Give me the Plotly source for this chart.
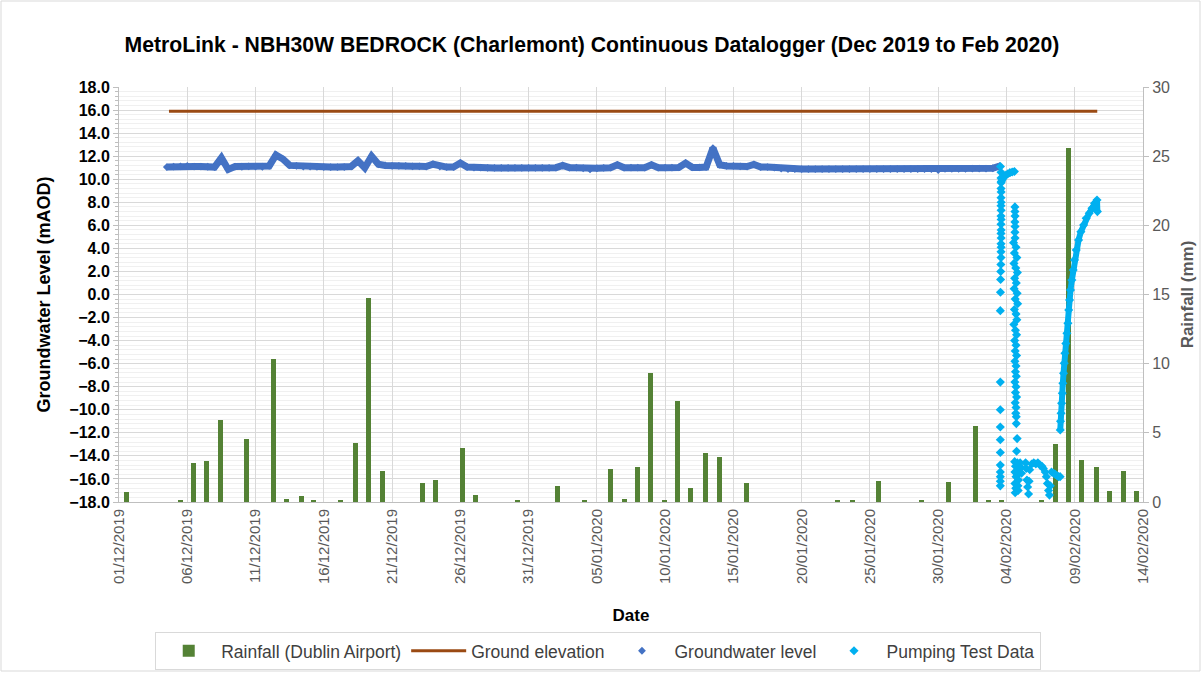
import numpy as np
import pandas as pd
import plotly.graph_objects as go

# ---------------- data (x values = days elapsed since 01/12/2019) ----------------
BASE = pd.Timestamp("2019-12-01")

x_tick_dates = ["2019-12-01", "2019-12-06", "2019-12-11", "2019-12-16", "2019-12-21",
                "2019-12-26", "2019-12-31", "2020-01-05", "2020-01-10", "2020-01-15",
                "2020-01-20", "2020-01-25", "2020-01-30", "2020-02-04", "2020-02-09",
                "2020-02-14"]

rain_day = [0.56, 4.47, 5.45, 6.43, 7.41, 9.37, 11.32, 12.30, 13.37, 14.24,
            16.19, 17.30, 18.29, 19.27, 22.20, 23.18, 25.14, 26.12, 29.18, 32.10,
            34.06, 36.02, 37.00, 37.98, 38.96, 39.93, 40.92, 41.89, 42.99, 43.97,
            45.93, 52.60, 53.70, 55.65, 58.75, 60.73, 62.70, 63.66, 64.64, 67.60,
            68.60, 69.54, 70.50, 71.60, 72.58, 73.56, 74.54]
rain_mm = [0.7, 0.1, 2.84, 2.94, 5.93, 4.58, 10.36, 0.2, 0.41, 0.1,
           0.1, 4.29, 14.73, 2.27, 1.4, 1.59, 3.88, 0.51, 0.12, 1.18,
           0.1, 2.36, 0.22, 2.55, 9.3, 0.1, 7.28, 0.99, 3.52, 3.23,
           1.4, 0.1, 0.1, 1.5, 0.14, 1.47, 5.52, 0.1, 0.14, 0.1,
           4.19, 25.62, 3.04, 2.55, 0.82, 2.26, 0.82]

ground_day = [3.66, 71.65]
ground_level = [15.9, 15.9]

gw_day = [3.5, 4.0, 4.5, 5.0, 5.5, 6.0, 6.5, 7.0, 7.5, 8.0,
          8.5, 9.0, 9.5, 10.0, 10.5, 11.0, 11.5, 12.0, 12.5, 13.0,
          13.5, 14.0, 14.5, 15.0, 15.5, 16.0, 16.5, 17.0, 17.5, 18.0,
          18.5, 19.0, 19.5, 20.0, 20.5, 21.0, 21.5, 22.0, 22.5, 23.0,
          23.5, 24.0, 24.5, 25.0, 25.5, 26.0, 26.5, 27.0, 27.5, 28.0,
          28.5, 29.0, 29.5, 30.0, 30.5, 31.0, 31.5, 32.0, 32.5, 33.0,
          33.5, 34.0, 34.5, 35.0, 35.5, 36.0, 36.5, 37.0, 37.5, 38.0,
          38.5, 39.0, 39.5, 40.0, 40.5, 41.0, 41.5, 42.0, 42.5, 43.0,
          43.5, 44.0, 44.5, 45.0, 45.5, 46.0, 46.5, 47.0, 47.5, 48.0,
          48.5, 49.0, 49.5, 50.0, 50.5, 51.0, 51.5, 52.0, 52.5, 53.0,
          53.5, 54.0, 54.5, 55.0, 55.5, 56.0, 56.5, 57.0, 57.5, 58.0,
          58.5, 59.0, 59.5, 60.0, 60.5, 61.0, 61.5, 62.0, 62.5, 63.0,
          63.5, 64.0, 64.5]
gw_level = [11.05, 11.10, 11.12, 11.15, 11.10, 11.10, 11.08, 11.05, 11.85, 10.85,
            11.10, 11.08, 11.12, 11.10, 11.08, 11.15, 12.10, 11.75, 11.20, 11.15,
            11.10, 11.10, 11.08, 11.05, 11.05, 11.05, 11.05, 11.10, 11.60, 11.00,
            12.00, 11.30, 11.20, 11.15, 11.15, 11.15, 11.12, 11.12, 11.10, 11.30,
            11.10, 11.05, 11.05, 11.40, 11.05, 11.00, 11.00, 10.98, 10.98, 10.98,
            10.98, 10.98, 10.98, 10.98, 10.98, 10.98, 10.98, 11.00, 11.20, 11.00,
            11.00, 10.95, 10.85, 10.95, 10.98, 11.00, 11.25, 11.00, 11.00, 11.00,
            11.00, 11.25, 11.00, 11.00, 11.00, 11.02, 11.40, 11.02, 11.02, 11.05,
            12.70, 11.25, 11.15, 11.15, 11.12, 11.10, 11.28, 11.05, 11.05, 11.00,
            10.92, 10.88, 10.88, 10.88, 10.88, 10.88, 10.88, 10.88, 10.88, 10.88,
            10.88, 10.88, 10.88, 10.88, 10.88, 10.88, 10.88, 10.88, 10.88, 10.88,
            10.88, 10.88, 10.88, 10.80, 10.90, 10.90, 10.90, 10.90, 10.92, 10.92,
            10.92, 10.95, 11.15]

# pumping test - first drawdown / recovery column
pump_col1_day = [64.56, 64.60, 64.60, 64.61, 64.60, 64.61, 64.60, 64.61, 64.60, 64.61,
                 64.60, 64.61, 64.60, 64.61, 64.60, 64.61, 64.60, 64.61, 64.60, 64.60,
                 64.59, 64.58, 64.57, 64.56, 64.55, 64.55, 64.55, 64.55, 64.55, 64.55,
                 64.55, 64.55, 64.55, 64.55, 64.55]
pump_col1_level = [11.1, 10.6, 10.1, 9.7, 9.2, 8.9, 8.4, 8.0, 7.7, 7.3,
                   6.8, 6.5, 6.1, 5.6, 5.3, 4.9, 4.4, 4.1, 3.7, 3.2,
                   2.6, 2.0, 1.3, 0.2, -1.4, -7.6, -10.0, -11.5, -12.6, -13.7,
                   -14.8, -15.4, -15.8, -16.2, -16.6]
# first recovery curve
pump_rec1_day = [64.62, 64.68, 64.76, 64.86, 64.97, 65.10, 65.25, 65.42, 65.58]
pump_rec1_level = [9.8, 9.95, 10.1, 10.25, 10.37, 10.48, 10.57, 10.63, 10.67]
# second drawdown column
pump_col2_day = [65.62, 65.62, 65.63, 65.62, 65.63, 65.62, 65.63,
                 65.52, 65.70, 65.58, 65.76, 65.55, 65.68, 65.80, 65.60, 65.72, 65.56,
                 65.78, 65.64, 65.82, 65.58, 65.70, 65.76, 65.54, 65.66, 65.74, 65.60,
                 65.70, 65.64, 65.74, 65.62, 65.70, 65.66, 65.72, 65.62, 65.70, 65.66,
                 65.74, 65.64, 65.70, 65.68, 65.72, 65.72, 65.78, 65.74]
pump_col2_level = [7.6, 7.2, 6.8, 6.3, 5.9, 5.4, 4.9,
                   4.5, 4.1, 3.6, 3.2, 2.7, 2.3, 1.9, 1.4, 1.0, 0.5,
                   0.1, -0.4, -0.8, -1.3, -1.7, -2.2, -2.6, -3.1, -3.5, -4.0,
                   -4.4, -4.9, -5.3, -5.8, -6.2, -6.7, -7.1, -7.6, -8.0, -8.5,
                   -8.9, -9.4, -9.8, -10.3, -10.6, -11.2, -12.5, -13.6]
# pumping period (low levels)
pump_low_day = [65.60, 65.66, 65.62, 65.70, 65.62, 65.68, 65.64,
                65.80, 65.86, 65.82, 65.88, 65.84, 65.86,
                66.00, 66.05, 66.10,
                66.40, 66.45, 66.50, 66.55, 66.62, 66.66, 66.70,
                66.85, 67.00, 67.15, 67.30, 67.45, 67.60, 67.70,
                67.84, 67.92, 68.00, 68.08, 68.15, 68.21,
                68.30, 68.45, 68.57, 68.69, 68.81, 68.93]
pump_low_level = [-14.5, -14.9, -15.4, -15.8, -16.4, -16.8, -17.2,
                  -14.6, -15.1, -15.6, -16.1, -16.6, -17.0,
                  -14.6, -15.0, -15.5,
                  -14.6, -15.1, -16.1, -16.7, -17.3, -16.2, -15.2,
                  -14.7, -14.6, -14.7, -14.6, -14.8, -14.9, -15.1,
                  -15.4, -15.8, -16.4, -17.0, -17.4, -16.6,
                  -15.4, -15.5, -15.6, -15.7, -15.8, -15.8]
# final recovery curve
pump_rec2_day = [68.94, 68.96, 69.00, 69.04, 69.09, 69.13, 69.18, 69.23, 69.28, 69.35,
                 69.43, 69.50, 69.56, 69.62, 69.69, 69.79, 69.89, 69.98, 70.11, 70.28,
                 70.45, 70.65, 70.84, 71.06, 71.26, 71.45, 71.63, 71.66]
pump_rec2_level = [-11.75, -11.0, -10.3, -9.43, -8.57, -7.7, -6.83, -5.96, -5.1, -4.24,
                   -3.36, -2.5, -1.34, -0.47, 0.39, 1.26, 2.13, 3.0, 3.86, 4.73,
                   5.45, 6.03, 6.61, 7.05, 7.48, 7.91, 8.2, 7.19]


def to_dt(days):
    return BASE + pd.to_timedelta(np.asarray(days, dtype=float), unit="D")


FONT = "Liberation Sans, Arial, sans-serif"
GREEN = "#548235"
BROWN = "#9A4A13"
BLUE = "#4472C4"
LBLUE = "#00B0F0"

fig = go.Figure()

fig.add_trace(go.Bar(
    x=to_dt(rain_day), y=rain_mm, name="Rainfall (Dublin Airport)",
    marker=dict(color=GREEN, line=dict(width=0)),
    width=0.37 * 86400000, yaxis="y", xaxis="x"))

fig.add_trace(go.Scatter(
    x=to_dt(ground_day), y=ground_level, name="Ground elevation",
    mode="lines", line=dict(color=BROWN, width=3), yaxis="y2"))

fig.add_trace(go.Scatter(
    x=to_dt(gw_day), y=gw_level, mode="lines", showlegend=False, hoverinfo="skip",
    line=dict(color=BLUE, width=7), yaxis="y2"))
fig.add_trace(go.Scatter(
    x=to_dt(gw_day), y=gw_level, name="Groundwater level", mode="markers",
    marker=dict(symbol="diamond", size=6, color=BLUE), yaxis="y2"))

for d, v in [(pump_rec1_day, pump_rec1_level), (pump_rec2_day, pump_rec2_level)]:
    fig.add_trace(go.Scatter(
        x=to_dt(d), y=v, mode="lines", showlegend=False, hoverinfo="skip",
        line=dict(color=LBLUE, width=6), yaxis="y2"))

pump_day = pump_col1_day + pump_rec1_day + pump_col2_day + pump_low_day + pump_rec2_day
pump_level = pump_col1_level + pump_rec1_level + pump_col2_level + pump_low_level + pump_rec2_level
fig.add_trace(go.Scatter(
    x=to_dt(pump_day), y=pump_level, name="Pumping Test Data", mode="markers",
    marker=dict(symbol="diamond", size=7, color=LBLUE), yaxis="y2"))

tick_ts = pd.to_datetime(x_tick_dates)
fig.update_layout(
    width=1203, height=673,
    margin=dict(l=119, r=60, t=87, b=171, autoexpand=False),
    paper_bgcolor="white", plot_bgcolor="white",
    font=dict(family=FONT, size=14, color="#404040"),
    title=dict(text="<b>MetroLink - NBH30W BEDROCK (Charlemont) Continuous Datalogger (Dec 2019 to Feb 2020)</b>",
               x=0.492, xanchor="center", y=1 - 45 / 673, yanchor="middle",
               font=dict(family=FONT, size=21.2, color="#000000")),
    bargap=0,
    xaxis=dict(
        type="date", range=[BASE, BASE + pd.Timedelta(days=75)], automargin=False,
        tickvals=tick_ts, ticktext=[t.strftime("%d/%m/%Y") for t in tick_ts],
        tickangle=-90, tickfont=dict(size=15, color="#595959"),
        showgrid=True, gridcolor="#d9d9d9", gridwidth=1,
        showline=True, linecolor="#bfbfbf", linewidth=1,
        ticks="", zeroline=False,
        title=dict(text="<b>Date</b>", font=dict(size=17, color="#000000"), standoff=26)),
    yaxis=dict(
        range=[0, 30], dtick=5, side="right", showgrid=False, zeroline=False, automargin=False,
        tickfont=dict(size=16, color="#595959"),
        showline=True, linecolor="#bfbfbf", ticks="outside", ticklen=5, tickcolor="#bfbfbf",
        title=dict(text="<b>Rainfall (mm)</b>", font=dict(size=17, color="#595959"), standoff=12)),
    yaxis2=dict(
        overlaying="y", side="left", range=[-18, 18], dtick=2, tickformat=".1f", automargin=False,
        tickfont=dict(size=16, color="#000000", weight="bold"),
        showgrid=True, gridcolor="#d9d9d9", gridwidth=1, zeroline=False,
        showline=True, linecolor="#bfbfbf", ticks="outside", ticklen=5, tickcolor="#bfbfbf",
        minor=dict(dtick=0.4, showgrid=True, gridcolor="#f0f0f0", ticks="outside",
                   ticklen=3, tickcolor="#bfbfbf"),
        title=dict(text="<b>Groundwater Level (mAOD)</b>", font=dict(size=18, color="#000000"),
                   standoff=14)),
    legend=dict(orientation="h", x=0.468, xanchor="center", y=-0.313, yanchor="top",
                bordercolor="#d9d9d9", borderwidth=1, bgcolor="white", itemwidth=55,
                font=dict(size=17.5, color="#404040"), traceorder="normal"),
    shapes=[dict(type="rect", xref="paper", yref="paper",
                 x0=(1 - 119) / 1024, x1=(1200 - 119) / 1024,
                 y0=(502 - 671) / 415, y1=(502 - 1) / 415,
                 line=dict(color="#d9d9d9", width=1), fillcolor="rgba(0,0,0,0)", layer="below")],
)

fig.write_html("out.html", config={"displayModeBar": False},
               post_script="document.body.style.margin='0';document.body.style.overflow='hidden';")
